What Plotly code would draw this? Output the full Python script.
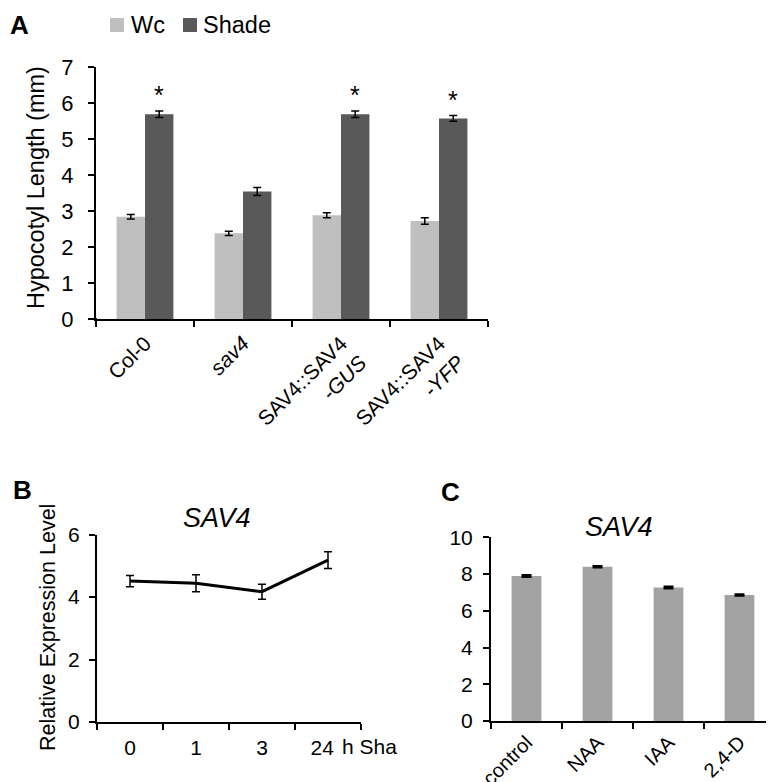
import plotly.graph_objects as go

OFF_X, OFF_Y = 8, 8
W, H = 774 - OFF_X, 782 - OFF_Y
FONT = "Liberation Sans, Arial, sans-serif"

# ---------------- data ----------------
genotypes = ["Col-0", "<i>sav4</i>", "SAV4::SAV4<br><i>-GUS</i>", "SAV4::SAV4<br><i>-YFP</i>"]
wc_len = [2.84, 2.38, 2.88, 2.72]
wc_err = [0.06, 0.06, 0.07, 0.09]
shade_len = [5.69, 3.54, 5.69, 5.57]
shade_err = [0.09, 0.11, 0.09, 0.08]
significant = [True, False, True, True]

time_labels = ["0", "1", "3", "24\u00a0\u00a0"]
expr_time = [4.51, 4.44, 4.17, 5.18]
expr_time_err = [0.18, 0.27, 0.24, 0.27]

treatments = ["control", "NAA", "IAA", "2,4-D"]
expr_treat = [7.89, 8.40, 7.27, 6.86]
expr_treat_err = [0.04, 0.03, 0.04, 0.03]

LIGHT = "#bfbfbf"
DARK = "#595959"
MID = "#a3a3a3"


def px_x(p):
    return (p - OFF_X) / W


def px_y(p):
    return 1 - (p - OFF_Y) / H


fig = go.Figure()

# ---------------- Panel A ----------------
fig.add_trace(go.Bar(x=genotypes, y=wc_len, name="Wc", marker_color=LIGHT, marker_line_width=0,
                     error_y=dict(type="data", array=wc_err, color="black", thickness=1.5, width=4),
                     xaxis="x", yaxis="y", showlegend=False))
fig.add_trace(go.Bar(x=genotypes, y=shade_len, name="Shade", marker_color=DARK, marker_line_width=0,
                     error_y=dict(type="data", array=shade_err, color="black", thickness=1.5, width=4),
                     xaxis="x", yaxis="y", showlegend=False))

# ---------------- Panel B ----------------
fig.add_trace(go.Scatter(x=time_labels, y=expr_time, mode="lines", line=dict(color="black", width=3),
                         error_y=dict(type="data", array=expr_time_err, color="black", thickness=1.5, width=4),
                         xaxis="x2", yaxis="y2", showlegend=False))

# ---------------- Panel C ----------------
fig.add_trace(go.Bar(x=treatments, y=expr_treat, marker_color=MID, marker_line_width=0, width=0.42,
                     error_y=dict(type="data", array=expr_treat_err, color="black", thickness=2.5, width=5),
                     xaxis="x3", yaxis="y3", showlegend=False))


def ax(size, standoff, **kw):
    d = dict(showline=True, linecolor="black", linewidth=2, ticks="outside", ticklen=6,
             tickwidth=2, tickcolor="black", showgrid=False, zeroline=False, automargin=False,
             ticklabelstandoff=standoff,
             tickfont=dict(family=FONT, size=size, color="black"))
    d.update(kw)
    return d


c_right = min(775, OFF_X + W)
c_cats = (c_right - 491) / 71.0

fig.update_layout(
    template="none",
    width=W, height=H, margin=dict(l=0, r=0, t=0, b=0, pad=0),
    paper_bgcolor="white", plot_bgcolor="white",
    barmode="group", bargap=0.42, bargroupgap=0,
    font=dict(family=FONT, color="black"),
    xaxis=ax(21, 2, domain=[px_x(96), px_x(488)], anchor="y", type="category", tickson="boundaries",
             tickangle=-45),
    yaxis=ax(22, 10, domain=[px_y(319), px_y(67)], anchor="x", range=[0, 7], dtick=1),
    xaxis2=ax(21, 6, domain=[px_x(97), px_x(361)], anchor="y2", type="category", tickson="boundaries",
              range=[-0.5, 3.5]),
    yaxis2=ax(21, 5, domain=[px_y(722), px_y(534.5)], anchor="x2", range=[0, 6], dtick=2),
    xaxis3=ax(20, 0, domain=[px_x(491), px_x(c_right)], anchor="y3", type="category", tickson="boundaries",
              tickangle=-45, range=[-0.5, -0.5 + c_cats]),
    yaxis3=ax(21, 6, domain=[px_y(721), px_y(537.3)], anchor="x3", range=[0, 10], dtick=2),
)

annotations = []
# asterisks
for g, v, e, s in zip(genotypes, shade_len, shade_err, significant):
    if s:
        annotations.append(dict(x=g, y=v + e, xref="x", yref="y", text="*", showarrow=False,
                                xshift=14, yshift=0, yanchor="bottom",
                                font=dict(family=FONT, size=25, color="black")))

# panel letters
for letter, xp, yp in [("A", 20, 25), ("B", 22, 490), ("C", 451, 492)]:
    annotations.append(dict(x=px_x(xp), y=px_y(yp), xref="paper", yref="paper", text="<b>%s</b>" % letter,
                            showarrow=False, xanchor="center", yanchor="middle",
                            font=dict(family=FONT, size=26, color="black")))

# y-axis titles
annotations.append(dict(x=px_x(36), y=px_y(188), xref="paper", yref="paper", text="Hypocotyl Length (mm)",
                        textangle=-90, showarrow=False, xanchor="center", yanchor="middle",
                        font=dict(family=FONT, size=23.5, color="black")))
annotations.append(dict(x=px_x(48), y=px_y(628), xref="paper", yref="paper", text="Relative Expression Level",
                        textangle=-90, showarrow=False, xanchor="center", yanchor="middle",
                        font=dict(family=FONT, size=21.5, color="black")))

# panel titles
annotations.append(dict(x=px_x(217), y=px_y(518), xref="paper", yref="paper", text="<i>SAV4</i>",
                        showarrow=False, xanchor="center", yanchor="middle",
                        font=dict(family=FONT, size=27, color="black")))
annotations.append(dict(x=px_x(619), y=px_y(527), xref="paper", yref="paper", text="<i>SAV4</i>",
                        showarrow=False, xanchor="center", yanchor="middle",
                        font=dict(family=FONT, size=27, color="black")))

# x-axis unit text of panel B (clipped in reference)
annotations.append(dict(x=px_x(340), y=px_y(746), xref="paper", yref="paper", text="h Sha",
                        showarrow=False, xanchor="left", yanchor="middle",
                        font=dict(family=FONT, size=21, color="black")))

# legend (manual)
shapes = [dict(type="line", xref="paper", yref="paper", x0=px_x(88), x1=px_x(97),
               y0=px_y(319), y1=px_y(319), line=dict(color="black", width=2))]
for name, col, sx, tx in [("Wc", LIGHT, 110, 129), ("Shade", DARK, 183, 201)]:
    shapes.append(dict(type="rect", xref="paper", yref="paper", x0=px_x(sx), x1=px_x(sx + 14),
                       y0=px_y(32), y1=px_y(18), fillcolor=col, line=dict(width=0)))
    annotations.append(dict(x=px_x(tx), y=px_y(25), xref="paper", yref="paper", text=name,
                            showarrow=False, xanchor="left", yanchor="middle",
                            font=dict(family=FONT, size=23.5, color="black")))

fig.update_layout(annotations=annotations, shapes=shapes)

fig.write_html("out.html")
